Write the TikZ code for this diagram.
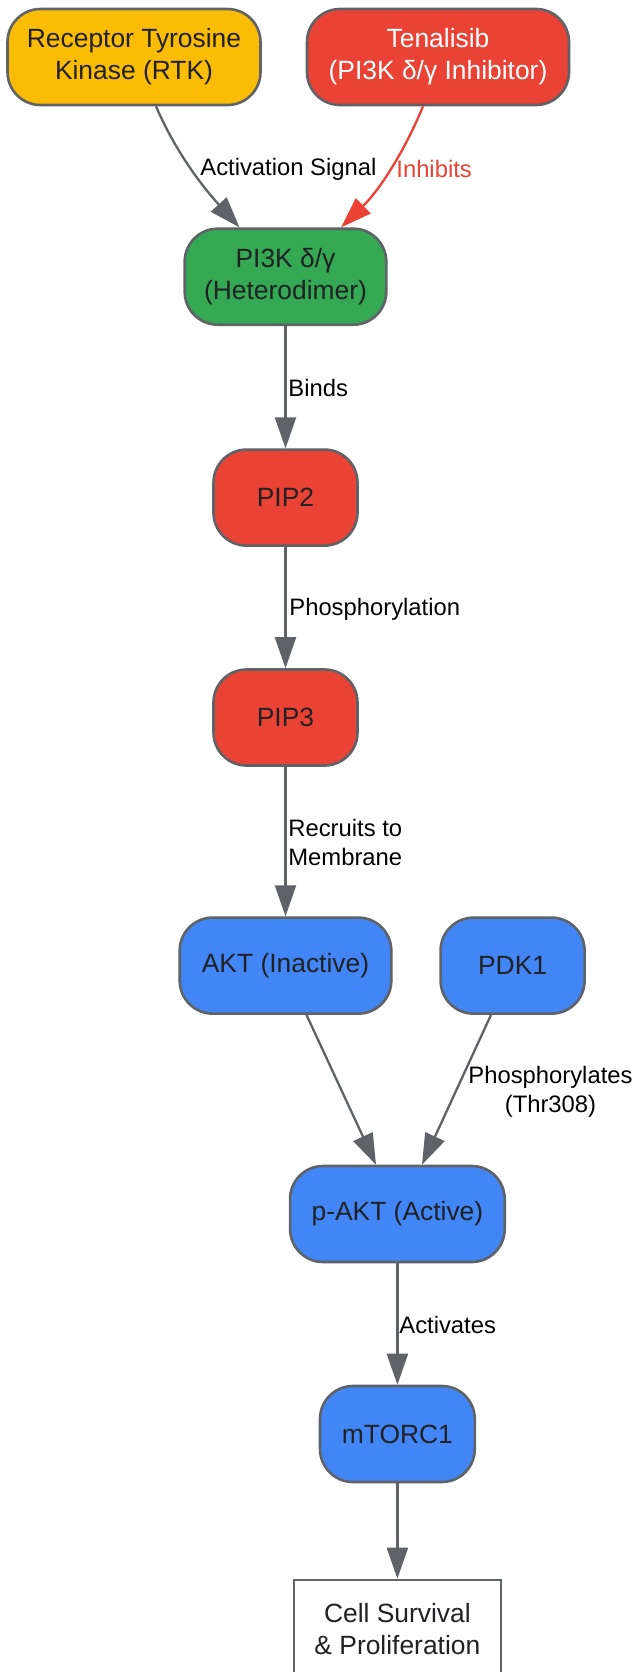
\documentclass[tikz,border=0pt]{standalone}
\usepackage{fontspec}
\setmainfont{Liberation Sans}
\usetikzlibrary{arrows.meta}
\definecolor{gborder}{HTML}{5F6368}
\definecolor{gtext}{HTML}{202124}
\definecolor{gyellow}{HTML}{FBBC05}
\definecolor{gred}{HTML}{EA4335}
\definecolor{ggreen}{HTML}{34A853}
\definecolor{gblue}{HTML}{4285F4}
\tikzset{
  box/.style={draw=gborder, line width=1.3pt, rounded corners=16.5pt, inner sep=0pt,
    minimum height=48pt, align=center, text=gtext,
    font=\fontsize{13.2}{16}\selectfont},
  plainbox/.style={draw=gborder, line width=1.3pt, inner sep=0pt,
    minimum height=49pt, align=center, text=gtext, fill=white,
    font=\fontsize{13.2}{16}\selectfont},
  conn/.style={draw=gborder, line width=1.15pt, -{Triangle[length=15.5pt,width=10.5pt]}},
  lbl/.style={font=\fontsize{11.9}{14.4}\selectfont, inner sep=0pt, text=black},
}
\begin{document}
\begin{tikzpicture}[x=0.5pt,y=-0.5pt]
\clip (0,0) rectangle (637,1672);
\fill[white] (0,0) rectangle (637,1672);
\node[box, fill=gyellow, minimum width=126.5pt] (rtk) at (134,57) {Receptor Tyrosine\\Kinase (RTK)};
\node[box, fill=gred, minimum width=131pt, text=white] (ten) at (438,57) {Tenalisib\\(PI3K δ/γ Inhibitor)};
\node[box, fill=ggreen, minimum width=100.8pt] (pi3k) at (285.5,276.7) {PI3K δ/γ\\(Heterodimer)};
\node[box, fill=gred, minimum width=72pt] (pip2) at (285.5,497.6) {PIP2};
\node[box, fill=gred, minimum width=72pt] (pip3) at (285.5,717.5) {PIP3};
\node[box, fill=gblue, minimum width=105.8pt] (akt) at (285.5,965.6) {AKT (Inactive)};
\node[box, fill=gblue, minimum width=72pt] (pdk) at (512.6,965.6) {PDK1};
\node[box, fill=gblue, minimum width=107.3pt] (pakt) at (397.4,1214) {p-AKT (Active)};
\node[box, fill=gblue, minimum width=77.4pt] (mtor) at (397.4,1434) {mTORC1};
\node[plainbox, minimum width=103.5pt] (cell) at (397.4,1629) {Cell Survival\\\& Proliferation};

\draw[conn] ([xshift=11pt]rtk.south) .. controls +(19,44) and +(-39,-43) .. ([xshift=-23pt]pi3k.north);
\draw[conn, draw=gred] ([xshift=-7.5pt]ten.south) .. controls +(-18,44) and +(39,-38) .. ([xshift=27.8pt]pi3k.north);
\draw[conn] (pi3k) -- (pip2);
\draw[conn] (pip2) -- (pip3);
\draw[conn] (pip3) -- (akt);
\draw[conn] ([xshift=10.5pt]akt.south) -- ([xshift=-10.7pt]pakt.north);
\draw[conn] ([xshift=-10.8pt]pdk.south) -- ([xshift=12.3pt]pakt.north);
\draw[conn] (pakt) -- (mtor);
\draw[conn] (mtor) -- (cell);

\node[lbl, anchor=west] (l1) at (200,169) {Activation Signal};
\node[lbl, anchor=west, text=gred] (l2) at (396,169) {Inhibits};
\node[lbl, anchor=west] (l3) at (288,388) {Binds};
\node[lbl, anchor=west] (l4) at (289,609) {Phosphorylation};
\node[lbl, anchor=west, align=left] (l5) at (288,842.5) {Recruits to\\Membrane};
\node[lbl, align=center] (l6) at (550.5,1092) {Phosphorylates\\(Thr308)};
\node[lbl, anchor=west] (l7) at (399,1325) {Activates};
\end{tikzpicture}
\end{document}
